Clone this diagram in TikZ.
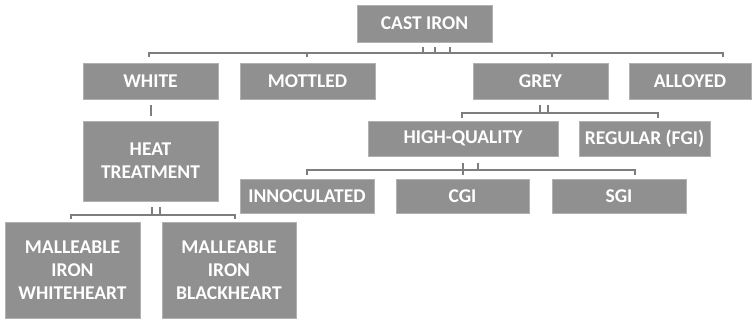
\documentclass[tikz,border=0pt]{standalone}
\usepackage{fontspec}
\setmainfont{Carlito}
\definecolor{boxgray}{HTML}{909090}
\definecolor{linegray}{HTML}{7E7E7E}
\tikzset{
  box/.style={rectangle, fill=boxgray, draw=boxgray!70!white, line width=0.6pt,
    text=white, inner sep=0pt, align=center,
    font=\fontsize{19.5}{23}\bfseries\selectfont},
  bus/.style={draw=linegray, line width=2.6pt, line cap=butt},
  stub/.style={draw=linegray, line width=2.6pt},
}
\begin{document}
\begin{tikzpicture}[x=1pt, y=-1pt]
\useasboundingbox (0,0) rectangle (753,320);

% boxes
\node[box, minimum width=135pt, minimum height=37pt] (cast) at (424.5,23.5) {CAST IRON};
\node[box, minimum width=135pt, minimum height=36pt] (white) at (150.5,81) {WHITE};
\node[box, minimum width=135pt, minimum height=36pt] (mottled) at (307.5,81) {MOTTLED};
\node[box, minimum width=135pt, minimum height=36pt] (grey) at (540.5,81) {GREY};
\node[box, minimum width=122pt, minimum height=36pt] (alloyed) at (690,81) {ALLOYED};
\node[box, minimum width=135pt, minimum height=80pt] (heat) at (150.5,161) {HEAT\\TREATMENT};
\node[box, minimum width=190pt, minimum height=35pt] (hq) at (463,138.5) {HIGH-QUALITY};
\node[box, minimum width=131pt, minimum height=35pt] (regular) at (644.5,138.5) {REGULAR (FGI)};
\node[box, minimum width=134pt, minimum height=34pt] (innoc) at (307,196) {INNOCULATED};
\node[box, minimum width=133pt, minimum height=34pt] (cgi) at (462.5,196) {CGI};
\node[box, minimum width=134pt, minimum height=34pt] (sgi) at (619,196) {SGI};
\node[box, minimum width=135pt, minimum height=96pt] (mwh) at (72.5,270) {MALLEABLE\\IRON\\WHITEHEART};
\node[box, minimum width=134pt, minimum height=96pt] (mbh) at (229,270) {MALLEABLE\\IRON\\BLACKHEART};

% bus below CAST IRON
\coordinate (t1) at (149,57);  \coordinate (t1b) at (149,53);
\coordinate (t4) at (723,57);  \coordinate (t4b) at (723,53);
\coordinate (t2) at (307,57);  \coordinate (t2b) at (307,53);
\coordinate (t3) at (552,57);  \coordinate (t3b) at (552,53);
\draw[bus] (t1) -- (t1b) -- (t4b) -- (t4);
\draw[stub] (t2b) -- (t2);
\draw[stub] (t3b) -- (t3);
\foreach \xx in {423,435,450} \draw[stub] (\xx,47.5) -- (\xx,53);

% stub below WHITE
\coordinate (w1) at (151,105); \coordinate (w2) at (151,116);
\draw[stub] (w1) -- (w2);

% bus below GREY
\coordinate (g1) at (462,118); \coordinate (g1b) at (462,113);
\coordinate (g2) at (658,118); \coordinate (g2b) at (658,113);
\draw[bus] (g1) -- (g1b) -- (g2b) -- (g2);
\foreach \xx in {540,548} \draw[stub] (\xx,105) -- (\xx,113);

% bus below HIGH-QUALITY
\coordinate (q1) at (307,175); \coordinate (q1b) at (307,170);
\coordinate (q2) at (635,175); \coordinate (q2b) at (635,170);
\draw[bus] (q1) -- (q1b) -- (q2b) -- (q2);
\draw[stub] (463,163) -- (463,175);
\draw[stub] (478,163) -- (478,170);

% bus below HEAT TREATMENT
\coordinate (h1) at (71,219); \coordinate (h1b) at (71,215);
\coordinate (h2) at (235,219); \coordinate (h2b) at (235,215);
\draw[bus] (h1) -- (h1b) -- (h2b) -- (h2);
\foreach \xx in {152,160} \draw[stub] (\xx,207) -- (\xx,215);
\end{tikzpicture}
\end{document}
